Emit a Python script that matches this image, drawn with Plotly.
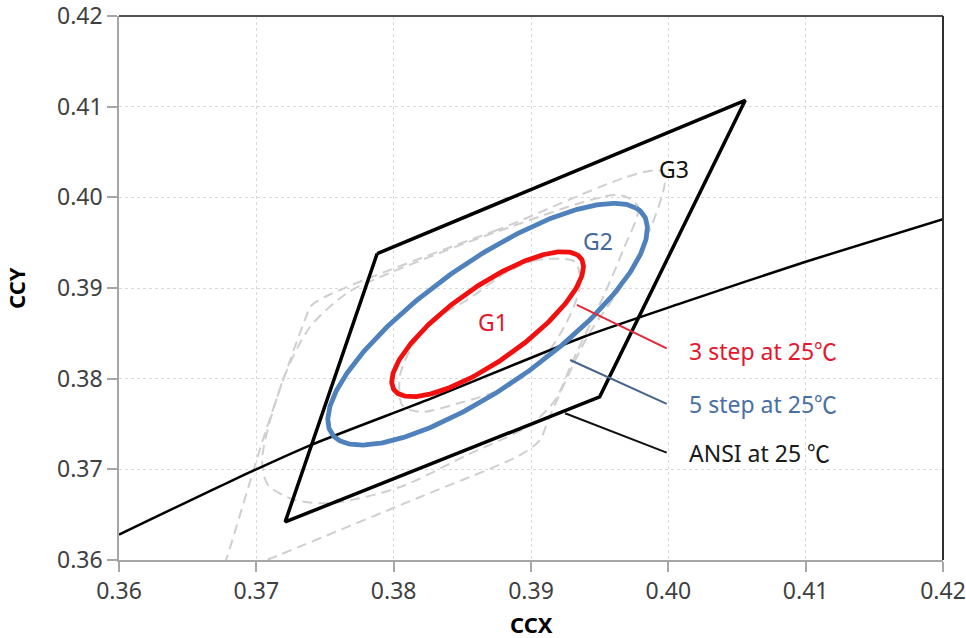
import numpy as np
import plotly.graph_objects as go

# ---------------- data ----------------
tick_start = 0.36
tick_step = 0.01
axis_min = 0.36
axis_max = 0.42

# Planckian locus (black curve)
locus_x = [0.360, 0.368, 0.374, 0.3827, 0.3938, 0.4009, 0.410, 0.420]
locus_y = [0.3628, 0.3686, 0.3727, 0.3778, 0.3846, 0.3883, 0.3929, 0.3976]

# ANSI quadrangle
ansi_x = [0.3788, 0.4056, 0.3950, 0.3721, 0.3788]
ansi_y = [0.3938, 0.4107, 0.3780, 0.3642, 0.3938]

# MacAdam ellipse parameters (per step)
ell_cx = 0.38684
ell_cy = 0.38601
ell_a_step = 0.003353
ell_b_step = 0.001132
ell_angle_deg = 49.9
ell_steps = [3, 5]

# dashed grey bins G1, G2, G3
g1_x = [0.39321, 0.39044, 0.38826, 0.38535, 0.38316, 0.38141, 0.38047, 0.38061, 0.38192,
        0.38505, 0.38775, 0.38993, 0.39161, 0.39285, 0.39358, 0.39321]
g1_y = [0.39287, 0.39309, 0.39177, 0.38868, 0.38669, 0.38371, 0.38041, 0.37710, 0.37633,
        0.37743, 0.37875, 0.38074, 0.38371, 0.38702, 0.39033, 0.39287]

g2_x = [0.39649, 0.39780, 0.39671, 0.39525, 0.39307, 0.39176, 0.38993, 0.38535, 0.38047,
        0.37559, 0.37282, 0.37085, 0.37042, 0.37194, 0.37391, 0.37661, 0.37901, 0.38750,
        0.39649]
g2_y = [0.40026, 0.39893, 0.39419, 0.38901, 0.38206, 0.37765, 0.37489, 0.37158, 0.36805,
        0.36629, 0.36662, 0.36827, 0.37103, 0.37985, 0.38570, 0.38945, 0.39121, 0.39620,
        0.40026]

g3_x = [0.39962, 0.38753, 0.37610, 0.37406, 0.37340, 0.37071, 0.36787, 0.36728, 0.37078,
        0.38192, 0.38921, 0.39066, 0.39125, 0.39409, 0.39744, 0.39962]
g3_y = [0.40279, 0.39640, 0.38978, 0.38813, 0.38592, 0.37434, 0.36033, 0.35780, 0.36000,
        0.36695, 0.37158, 0.37324, 0.37544, 0.38460, 0.39232, 0.40279]

# labels
bin_labels = ["G1", "G2", "G3"]
bin_label_x = [0.38720, 0.39485, 0.40042]
bin_label_y = [0.38628, 0.39518, 0.40318]

legend_texts = ["3 step at 25", "5 step at 25", "ANSI at 25 "]
legend_unit = "℃"
legend_text_x = [0.40135, 0.40135, 0.40135]
legend_text_y = [0.38316, 0.37732, 0.37191]
leader_start_x = [0.39334, 0.39285, 0.39248]
leader_start_y = [0.38813, 0.38206, 0.37618]
leader_end_x = [0.39988, 0.39988, 0.39988]
leader_end_y = [0.38335, 0.37721, 0.37184]

x_title = "CCX"
y_title = "CCY"

# ---------------- styles ----------------
FONT = "Noto Sans, Noto Sans CJK KR, sans-serif"
CJK = "Noto Sans CJK KR"
RED = "#f01010"
BLUE = "#4f81bd"
GREY_DASH = "#cfcfcf"
text_colors = ["#e3182d", "#4a6fa5", "#1a1a1a"]
leader_colors = ["#e3283a", "#46648c", "#111111"]
bin_colors = ["#e3182d", "#44699a", "#111111"]

fig = go.Figure()

for gx, gy in [(g3_x, g3_y), (g2_x, g2_y), (g1_x, g1_y)]:
    fig.add_trace(go.Scatter(x=gx, y=gy, mode="lines",
                             line=dict(color=GREY_DASH, width=2, dash="10px,6px",
                                       shape="spline", smoothing=0.8),
                             hoverinfo="skip", showlegend=False))

fig.add_trace(go.Scatter(x=locus_x, y=locus_y, mode="lines",
                         line=dict(color="#000000", width=2.5, shape="spline", smoothing=0.6),
                         showlegend=False))

fig.add_trace(go.Scatter(x=ansi_x, y=ansi_y, mode="lines",
                         line=dict(color="#000000", width=3.5),
                         showlegend=False))

t = np.linspace(0, 2 * np.pi, 361)
th = np.deg2rad(ell_angle_deg)
for n, col in zip(reversed(ell_steps), [BLUE, RED]):
    a = ell_a_step * n
    b = ell_b_step * n
    ex = ell_cx + a * np.cos(t) * np.cos(th) - b * np.sin(t) * np.sin(th)
    ey = ell_cy + a * np.cos(t) * np.sin(th) + b * np.sin(t) * np.cos(th)
    fig.add_trace(go.Scatter(x=ex, y=ey, mode="lines",
                             line=dict(color=col, width=4.8),
                             showlegend=False))

for i in range(3):
    fig.add_trace(go.Scatter(x=[leader_start_x[i], leader_end_x[i]],
                             y=[leader_start_y[i], leader_end_y[i]],
                             mode="lines",
                             line=dict(color=leader_colors[i], width=2),
                             showlegend=False))
    txt = legend_texts[i] + f'<span style="font-family:{CJK}">{legend_unit}</span>'
    fig.add_annotation(x=legend_text_x[i], y=legend_text_y[i], text=txt,
                       xref="x", yref="y", xanchor="left", yanchor="middle",
                       showarrow=False,
                       font=dict(family=FONT, size=23, color=text_colors[i]))
    fig.add_annotation(x=bin_label_x[i], y=bin_label_y[i], text=bin_labels[i],
                       xref="x", yref="y", xanchor="center", yanchor="middle",
                       showarrow=False,
                       font=dict(family=FONT, size=23, color=bin_colors[i]))

# axis titles
fig.add_annotation(x=0.5, y=-0.118, xref="paper", yref="paper", text=f"<b>{x_title}</b>",
                   showarrow=False, xanchor="center", yanchor="middle",
                   font=dict(family=FONT, size=22, color="#000000"))
fig.add_annotation(x=-0.125, y=0.5, xref="paper", yref="paper", text=f"<b>{y_title}</b>",
                   showarrow=False, xanchor="center", yanchor="middle", textangle=-90,
                   font=dict(family=FONT, size=22, color="#000000"))

# top and right plot border
fig.add_shape(type="line", xref="x domain", yref="y domain", x0=0, x1=1, y0=1, y1=1,
              line=dict(color="#505050", width=2))
fig.add_shape(type="line", xref="x domain", yref="y domain", x0=1, x1=1, y0=0, y1=1,
              line=dict(color="#303030", width=2))

axis_common = dict(
    showgrid=True, gridcolor="#d9d9d9", gridwidth=1, griddash="3px,3px",
    showline=True, linecolor="#a6a6a6", linewidth=1.5,
    ticks="outside", ticklen=10, tickcolor="#a6a6a6", tickwidth=1.5,
    zeroline=False, automargin=False, ticklabeloverflow="allow",
    tickmode="linear", tick0=tick_start, dtick=tick_step, tickformat=".2f",
    tickfont=dict(family=FONT, size=23, color="#404040"),
)

fig.update_layout(
    width=966, height=638,
    margin=dict(l=119, r=23, t=16, b=78),
    paper_bgcolor="white", plot_bgcolor="white",
    font=dict(family=FONT),
    xaxis=dict(range=[axis_min, axis_max + 1e-7], **axis_common),
    yaxis=dict(range=[axis_min, axis_max + 1e-7], **axis_common),
)

fig.write_html("out.html", config={"displayModeBar": False},
               post_script="document.body.style.margin='0px';")
